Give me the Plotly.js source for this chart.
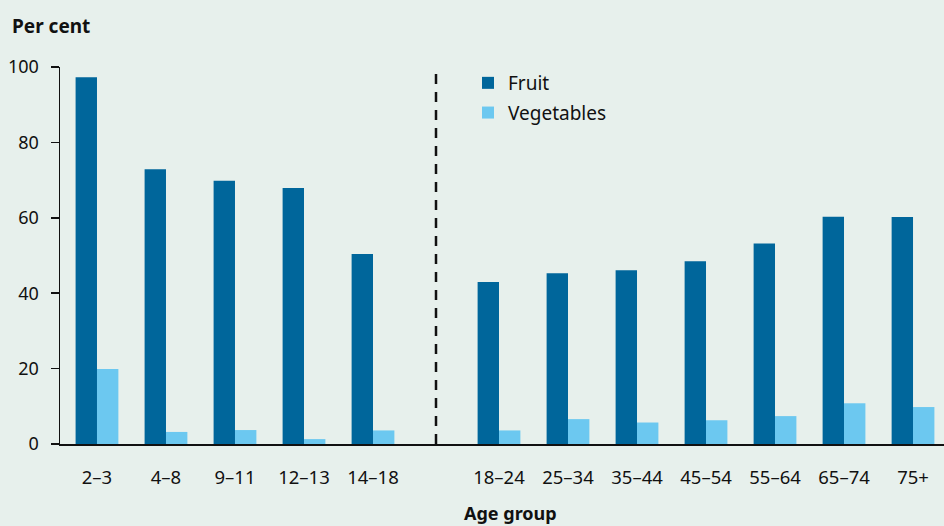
<!DOCTYPE html>
<html>
<head>
<meta charset="utf-8">
<script src="https://cdn.plot.ly/plotly-3.0.1.min.js"></script>
<style>html,body{margin:0;padding:0;background:#e7f0ec;}#chart{width:944px;height:526px;}</style>
</head>
<body>
<div id="chart"></div>
<script>
const childAges = ['2–3', '4–8', '9–11', '12–13', '14–18'];
const adultAges = ['18–24', '25–34', '35–44', '45–54', '55–64', '65–74', '75+'];
const childFruit = [97.3, 72.9, 69.8, 67.9, 50.4];
const childVeg = [19.9, 3.2, 3.7, 1.3, 3.6];
const adultFruit = [43.0, 45.3, 46.1, 48.5, 53.2, 60.3, 60.2];
const adultVeg = [3.6, 6.6, 5.7, 6.3, 7.4, 10.8, 9.8];

const fruitColor = '#00669b';
const vegColor = '#6cc8f0';
const ink = '#111111';
const font = 'Noto Sans, Open Sans, sans-serif';

const traces = [
  {type: 'bar', name: 'Fruit', x: childAges, y: childFruit, xaxis: 'x', yaxis: 'y',
   marker: {color: fruitColor}, legendgroup: 'fruit'},
  {type: 'bar', name: 'Vegetables', x: childAges, y: childVeg, xaxis: 'x', yaxis: 'y',
   marker: {color: vegColor}, legendgroup: 'veg'},
  {type: 'bar', name: 'Fruit', x: adultAges, y: adultFruit, xaxis: 'x2', yaxis: 'y',
   marker: {color: fruitColor}, legendgroup: 'fruit', showlegend: false},
  {type: 'bar', name: 'Vegetables', x: adultAges, y: adultVeg, xaxis: 'x2', yaxis: 'y',
   marker: {color: vegColor}, legendgroup: 'veg', showlegend: false}
];

const split = (436 - 60) / 884;

const xCommon = {
  type: 'category', showgrid: false, zeroline: false, showline: true,
  linecolor: ink, linewidth: 1.5, ticks: '', ticklabelstandoff: 16,
  tickfont: {family: font, size: 18.5, color: ink}, fixedrange: true
};

const layout = {
  width: 944, height: 526,
  margin: {l: 60, r: 0, t: 67, b: 82, pad: 0},
  paper_bgcolor: '#e7f0ec', plot_bgcolor: '#e7f0ec',
  barmode: 'group', bargap: 0.38, bargroupgap: 0,
  showlegend: true,
  legend: {x: (468 - 60) / 884, y: 1 + 3 / 377, xanchor: 'left', yanchor: 'top',
    bgcolor: 'rgba(0,0,0,0)', font: {family: font, size: 19, color: ink},
    tracegroupgap: 2, traceorder: 'grouped'},
  xaxis: Object.assign({}, xCommon, {domain: [0, split], range: [-0.536, 4.913], anchor: 'y'}),
  xaxis2: Object.assign({}, xCommon, {domain: [split, 1], range: [-0.913, 6.449], anchor: 'y'}),
  yaxis: {range: [0, 100], tickvals: [0, 20, 40, 60, 80, 100], showgrid: false, zeroline: false,
    showline: true, linecolor: ink, linewidth: 1.5, ticks: 'outside', ticklen: 8,
    tickwidth: 1.5, tickcolor: ink, ticklabelstandoff: 8,
    tickfont: {family: font, size: 18, color: ink}, fixedrange: true},
  shapes: [
    {type: 'line', xref: 'paper', yref: 'paper', x0: split, x1: split, y0: 0, y1: 1,
     line: {color: '#111', width: 2.5, dash: '10px,8px'}}
  ],
  annotations: [
    {text: '<b>Per cent</b>', xref: 'paper', yref: 'paper', x: -50 / 884, y: 1 + 41 / 377,
     xanchor: 'left', yanchor: 'middle', showarrow: false,
     font: {family: font, size: 19, color: ink}},
    {text: '<b>Age group</b>', xref: 'paper', yref: 'paper', x: (510 - 60) / 884, y: -69 / 377,
     xanchor: 'center', yanchor: 'middle', showarrow: false,
     font: {family: font, size: 18, color: ink}}
  ]
};

Plotly.newPlot('chart', traces, layout, {displayModeBar: false, staticPlot: true});
</script>
</body>
</html>
